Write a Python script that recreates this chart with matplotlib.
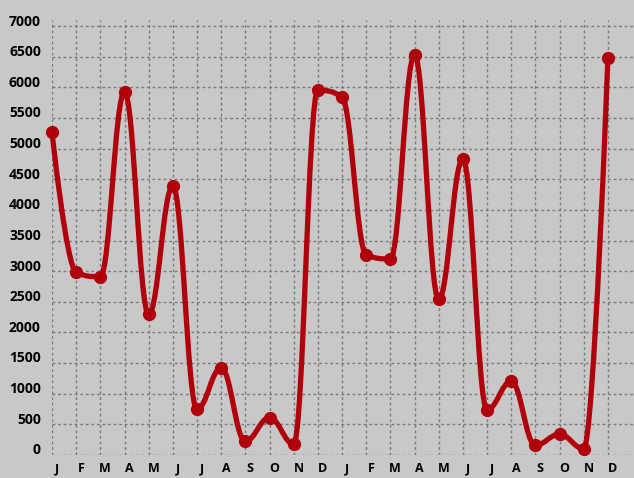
import numpy as np
import matplotlib.pyplot as plt
from matplotlib.path import Path
from matplotlib.patches import PathPatch

months = ['J', 'F', 'M', 'A', 'M', 'J', 'J', 'A', 'S', 'O', 'N', 'D',
          'J', 'F', 'M', 'A', 'M', 'J', 'J', 'A', 'S', 'O', 'N', 'D']
values = [5270, 2980, 2910, 5920, 2300, 4390, 750, 1420, 225, 610, 180, 5950,
          5840, 3270, 3200, 6530, 2540, 4830, 740, 1200, 160, 340, 100, 6480]

bg = '#c8c8c8'
red = '#b0000c'

fig = plt.figure(figsize=(6.34, 4.78), dpi=100, facecolor=bg)
ax = fig.add_axes([52 / 634, 23 / 478, 582 / 634, 435 / 478])
ax.set_facecolor(bg)

x = np.arange(len(values), dtype=float)
y = np.array(values, dtype=float)
n = len(x)

# spline control points, clamped at local extremes so the curve does not overshoot
left = [None] * n
right = [None] * n
s = 1.5
for i in range(1, n - 1):
    lx = (s * x[i] + x[i - 1]) / (s + 1)
    ly = (s * y[i] + y[i - 1]) / (s + 1)
    rx = (s * x[i] + x[i + 1]) / (s + 1)
    ry = (s * y[i] + y[i + 1]) / (s + 1)
    corr = (ry - ly) * (rx - x[i]) / (rx - lx) + y[i] - ry
    ly += corr
    ry += corr
    if ly > max(y[i - 1], y[i]):
        ly = max(y[i - 1], y[i])
        ry = 2 * y[i] - ly
    elif ly < min(y[i - 1], y[i]):
        ly = min(y[i - 1], y[i])
        ry = 2 * y[i] - ly
    if ry > max(y[i + 1], y[i]):
        ry = max(y[i + 1], y[i])
        ly = 2 * y[i] - ry
    elif ry < min(y[i + 1], y[i]):
        ry = min(y[i + 1], y[i])
        ly = 2 * y[i] - ry
    left[i] = (lx, ly)
    right[i] = (rx, ry)
right[0] = (x[0], y[0])
left[n - 1] = (x[n - 1], y[n - 1])

verts = [(x[0], y[0])]
codes = [Path.MOVETO]
for i in range(n - 1):
    verts += [right[i], left[i + 1], (x[i + 1], y[i + 1])]
    codes += [Path.CURVE4] * 3
ax.add_patch(PathPatch(Path(verts, codes), facecolor='none', edgecolor=red,
                       lw=3.8, capstyle='round', joinstyle='round', zorder=3,
                       clip_on=False))
ax.plot(x, y, 'o', color=red, markersize=8.5, zorder=4, clip_on=False)

ax.set_xlim(0, 24.08)
ax.set_ylim(0, 7000)
yt = np.arange(0, 7001, 500)
ax.set_xticks(x)
ax.set_yticks(yt)
ax.set_xticklabels([])
ax.set_yticklabels([])
ax.grid(True, color='#7a7a7a', linestyle=(0, (2, 2)), linewidth=1)
ax.set_axisbelow(True)
for sp in ax.spines.values():
    sp.set_visible(False)
ax.tick_params(which='both', length=0)

# labels sit a little right of / above their grid lines
ax.set_xticks(x + 0.2, minor=True)
ax.set_xticklabels(months, minor=True, fontsize=9, fontweight='bold', family='Open Sans')
ax.set_yticks(yt + 100, minor=True)
ax.set_yticklabels([str(v) for v in yt], minor=True, fontsize=10,
                   fontweight='bold', family='Open Sans')
ax.tick_params(axis='x', which='minor', pad=5)
ax.tick_params(axis='y', which='minor', pad=8)
ax.grid(False, which='minor')

fig.savefig('out.png', dpi=100, facecolor=bg)
